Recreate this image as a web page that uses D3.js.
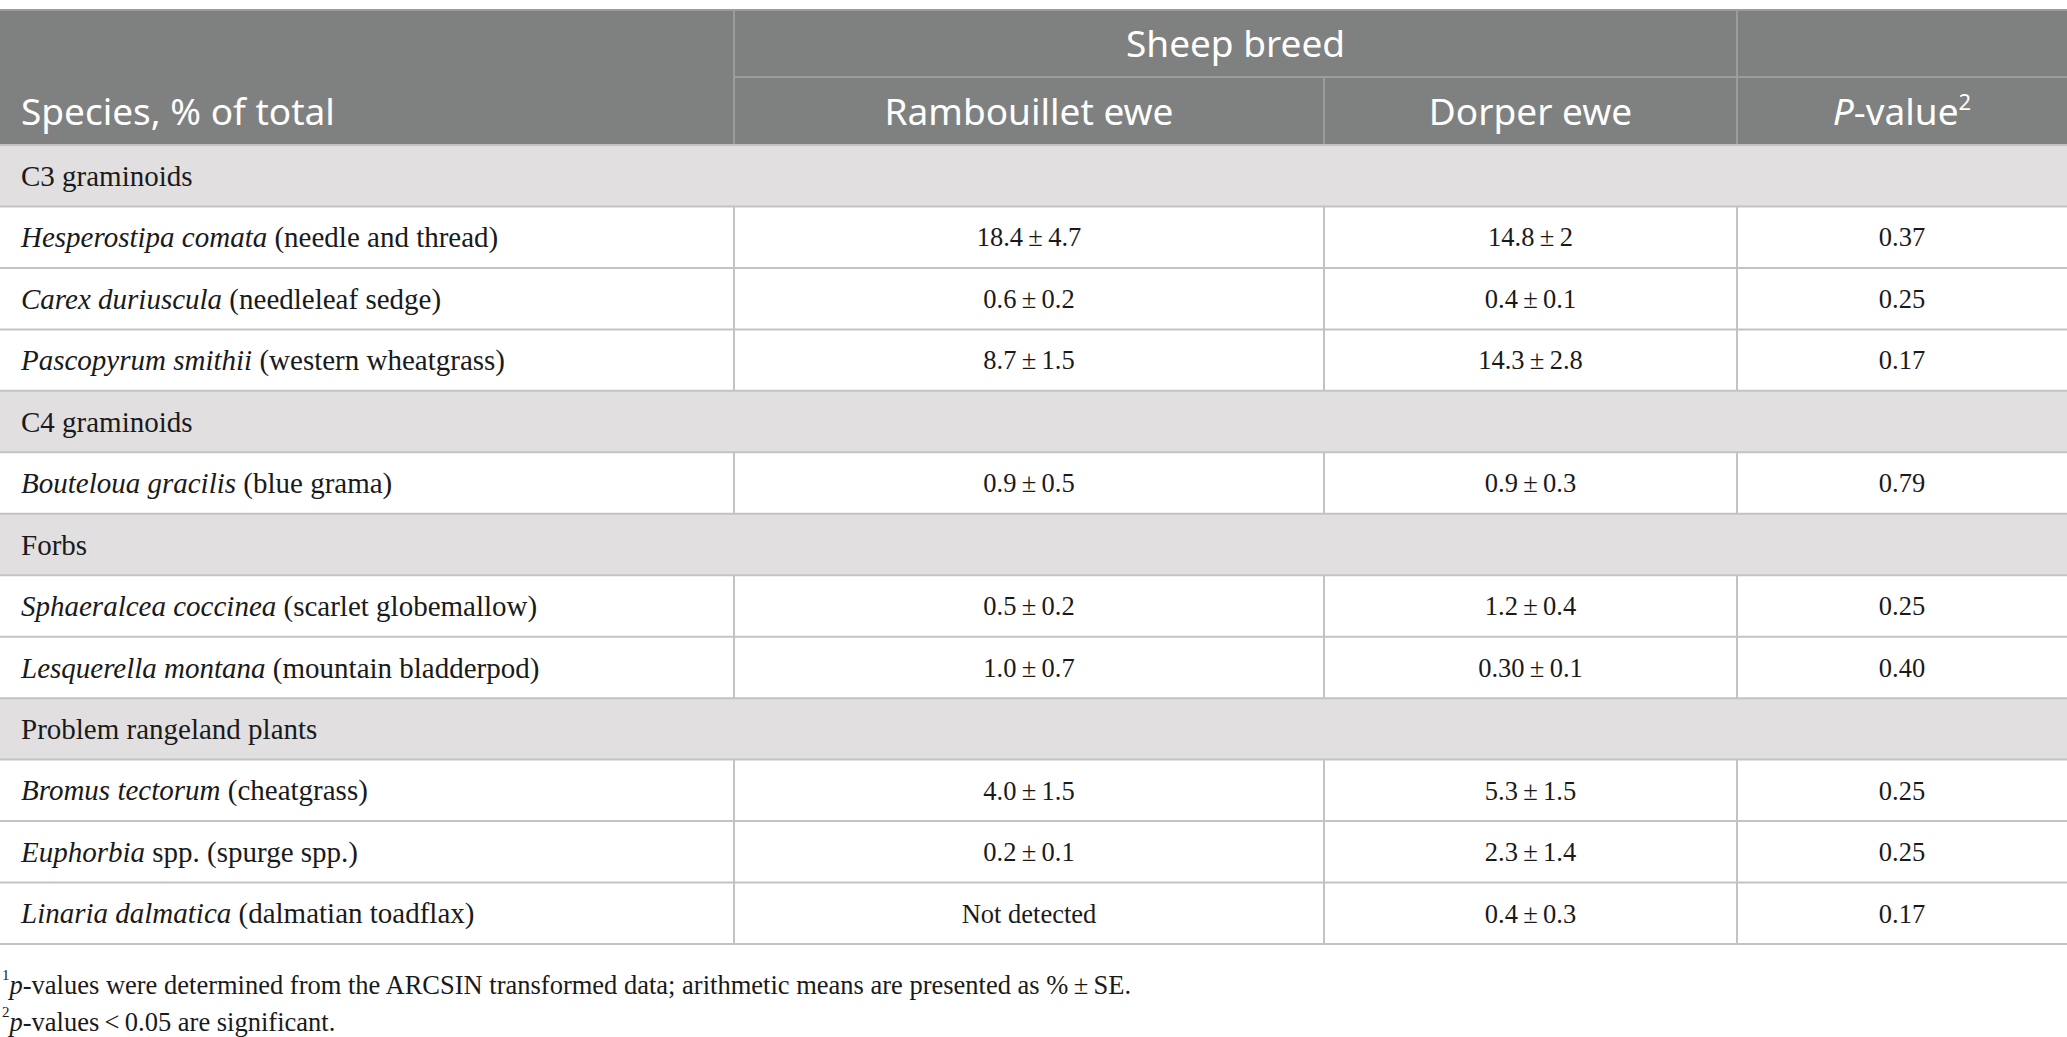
<!DOCTYPE html>
<html>
<head>
<meta charset="utf-8">
<script src="https://cdn.jsdelivr.net/npm/d3@7"></script>
<style>
	html, body { margin: 0; padding: 0; background: #ffffff; }
	svg { display: block; }
</style>
</head>
<body>
<div id="chart"></div>
<script>
// table content
const groupNames = ['C3 graminoids', 'C4 graminoids', 'Forbs', 'Problem rangeland plants']
const groupOf = [0, 0, 0, 1, 2, 2, 3, 3, 3]
const latinNames = [
	'Hesperostipa comata', 'Carex duriuscula', 'Pascopyrum smithii',
	'Bouteloua gracilis',
	'Sphaeralcea coccinea', 'Lesquerella montana',
	'Bromus tectorum', 'Euphorbia', 'Linaria dalmatica',
]
const commonNames = [
	' (needle and thread)', ' (needleleaf sedge)', ' (western wheatgrass)',
	' (blue grama)',
	' (scarlet globemallow)', ' (mountain bladderpod)',
	' (cheatgrass)', ' spp. (spurge spp.)', ' (dalmatian toadflax)',
]
const rambouilletEwe = ['18.4 ± 4.7', '0.6 ± 0.2', '8.7 ± 1.5', '0.9 ± 0.5', '0.5 ± 0.2', '1.0 ± 0.7', '4.0 ± 1.5', '0.2 ± 0.1', 'Not detected']
const dorperEwe = ['14.8 ± 2', '0.4 ± 0.1', '14.3 ± 2.8', '0.9 ± 0.3', '1.2 ± 0.4', '0.30 ± 0.1', '5.3 ± 1.5', '2.3 ± 1.4', '0.4 ± 0.3']
const pValues = ['0.37', '0.25', '0.17', '0.79', '0.25', '0.40', '0.25', '0.25', '0.17']
const columnHeaders = ['Species, % of total', 'Rambouillet ewe', 'Dorper ewe', 'P-value']
const spanHeader = 'Sheep breed'
const footnotes = [
	['1', 'p', '-values were determined from the ARCSIN transformed data; arithmetic means are presented as % ± SE.'],
	['2', 'p', '-values < 0.05 are significant.'],
]

const attrs = {
	width: 2067,
	height: 1037,
	top: 10,
	headerHeight: [67, 68],
	bodyBottom: 944,
	padLeft: 21,
	colors: {
		header: '#7f8180',
		headerLine: '#9b9c9c',
		group: '#e1dfe0',
		line: '#c3c3c3',
		text: '#1a1a1a',
	},
	sansFont: '"Noto Sans", "Open Sans", sans-serif',
	serifFont: '"Liberation Serif", "DejaVu Serif", serif',
}

const pm = s => s.replace(' ± ', '\u2009±\u2009').replace(' < ', '\u2009<\u2009')

// flatten groups + species into display rows
const rows = []
groupOf.forEach((g, i) => {
	if (i === 0 || groupOf[i - 1] !== g) rows.push({ type: 'group', label: groupNames[g] })
	rows.push({
		type: 'item',
		latin: latinNames[i],
		common: commonNames[i],
		values: [rambouilletEwe[i], dorperEwe[i], pValues[i]].map(pm),
	})
})

const svg = d3.select('#chart')
	.append('svg')
	.attr('width', attrs.width)
	.attr('height', attrs.height)

// column edges
const colEdges = [0, 734, 1324, 1737, attrs.width]
const colX = d3.scaleOrdinal().domain([0, 1, 2, 3, 4]).range(colEdges)
const colMid = i => (colX(i) + colX(i + 1)) / 2

const headTop = attrs.top
const headMid = headTop + attrs.headerHeight[0]
const bodyTop = headMid + attrs.headerHeight[1]

const y = d3.scaleBand()
	.domain(d3.range(rows.length))
	.range([bodyTop, attrs.bodyBottom])
	.padding(0)

// header background
svg.append('rect')
	.attr('x', 0).attr('y', headTop)
	.attr('width', attrs.width).attr('height', bodyTop - headTop)
	.attr('fill', attrs.colors.header)

// group rows background
svg.append('g').selectAll('rect')
	.data(rows.map((r, i) => ({ r, i })).filter(d => d.r.type === 'group'))
	.join('rect')
	.attr('x', 0).attr('y', d => y(d.i))
	.attr('width', attrs.width).attr('height', y.bandwidth())
	.attr('fill', attrs.colors.group)

// header lines
const hl = svg.append('g').attr('stroke', attrs.colors.headerLine).attr('stroke-width', 2)
hl.append('line').attr('x1', 0).attr('x2', attrs.width).attr('y1', headTop).attr('y2', headTop)
hl.append('line').attr('x1', colX(1)).attr('x2', attrs.width).attr('y1', headMid).attr('y2', headMid)
hl.selectAll('.v1').data([1, 3]).join('line')
	.attr('x1', d => colX(d)).attr('x2', d => colX(d))
	.attr('y1', headTop).attr('y2', headMid)
hl.selectAll('.v2').data([1, 2, 3]).join('line')
	.attr('x1', d => colX(d)).attr('x2', d => colX(d))
	.attr('y1', headMid).attr('y2', bodyTop)

// body lines
const bl = svg.append('g').attr('stroke', attrs.colors.line).attr('stroke-width', 2)
bl.selectAll('.h').data(d3.range(rows.length + 1)).join('line')
	.attr('x1', 0).attr('x2', attrs.width)
	.attr('y1', d => d < rows.length ? y(d) : attrs.bodyBottom)
	.attr('y2', d => d < rows.length ? y(d) : attrs.bodyBottom)
bl.selectAll('.v').data(rows.map((r, i) => ({ r, i })).filter(d => d.r.type === 'item')).join('g')
	.each(function (d) {
		d3.select(this).selectAll('line').data([1, 2, 3]).join('line')
			.attr('x1', c => colX(c)).attr('x2', c => colX(c))
			.attr('y1', y(d.i)).attr('y2', y(d.i) + y.bandwidth())
	})

// header text
const ht = svg.append('g')
	.attr('fill', '#ffffff')
	.attr('font-family', attrs.sansFont)
	.attr('font-size', 37)

ht.append('text')
	.attr('x', (colX(1) + colX(3)) / 2)
	.attr('y', headTop + attrs.headerHeight[0] / 2 + 1)
	.attr('dy', '0.35em')
	.attr('text-anchor', 'middle')
	.text(spanHeader)

const row2y = headMid + attrs.headerHeight[1] / 2 + 1
ht.append('text')
	.attr('x', attrs.padLeft).attr('y', row2y).attr('dy', '0.35em')
	.text(columnHeaders[0])
ht.selectAll('.ch').data([1, 2]).join('text')
	.attr('x', d => colMid(d)).attr('y', row2y).attr('dy', '0.35em')
	.attr('text-anchor', 'middle')
	.text(d => columnHeaders[d])
const pv = ht.append('text')
	.attr('x', colMid(3)).attr('y', row2y).attr('dy', '0.35em')
	.attr('text-anchor', 'middle')
pv.append('tspan').attr('font-style', 'italic').text(columnHeaders[3].slice(0, 1))
pv.append('tspan').text(columnHeaders[3].slice(1))
pv.append('tspan').attr('font-size', 22).attr('dy', '-0.7em').text('2')

// body text
const bt = svg.append('g')
	.attr('fill', attrs.colors.text)
	.attr('font-family', attrs.serifFont)
	.attr('font-size', 29)

rows.forEach((r, i) => {
	const cy = y(i) + y.bandwidth() / 2
	if (r.type === 'group') {
		bt.append('text')
			.attr('x', attrs.padLeft).attr('y', cy).attr('dy', '0.35em')
			.text(r.label)
		return
	}
	const t = bt.append('text')
		.attr('x', attrs.padLeft).attr('y', cy).attr('dy', '0.35em')
	t.append('tspan').attr('font-style', 'italic').text(r.latin)
	t.append('tspan').text(r.common)

	bt.append('g').selectAll('text').data(r.values).join('text')
		.attr('x', (d, k) => colMid(k + 1))
		.attr('y', cy).attr('dy', '0.35em')
		.attr('text-anchor', 'middle')
		.attr('font-size', 26.5)
		.text(d => d)
})

// footnotes
const ft = svg.append('g')
	.attr('fill', attrs.colors.text)
	.attr('font-family', attrs.serifFont)
	.attr('font-size', 26.5)

ft.selectAll('text').data(footnotes).join('text')
	.attr('x', 2)
	.attr('y', (d, i) => 988 + i * 37)
	.each(function (d) {
		const t = d3.select(this)
		t.append('tspan').attr('font-size', 15).attr('dy', '-0.55em').text(d[0])
		t.append('tspan').attr('font-style', 'italic').attr('dy', '0.55em').text(d[1])
		t.append('tspan').text(pm(d[2]))
	})
</script>
</body>
</html>
